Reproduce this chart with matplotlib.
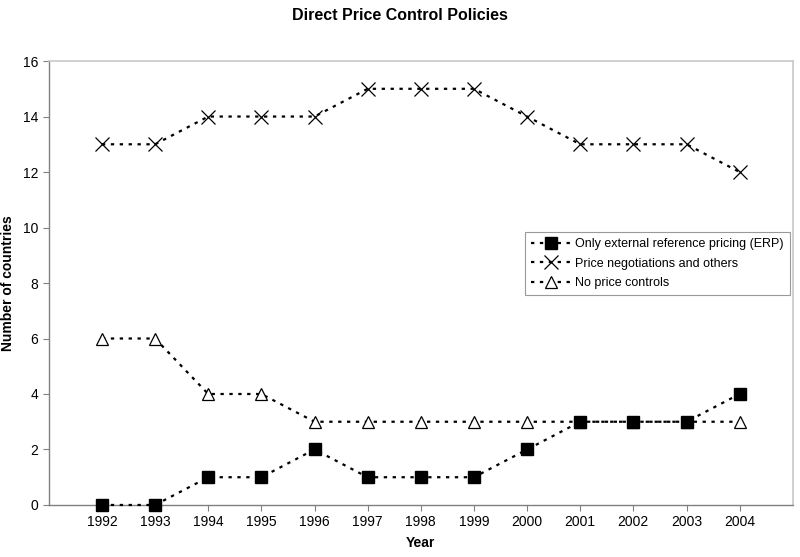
from matplotlib import pyplot as plt

# data...
years = ['1992', '1993', '1994', '1995', '1996', '1997', '1998', '1999', '2000', '2001', '2002', '2003', '2004']
erp_only = [0, 0, 1, 1, 2, 1, 1, 1, 2, 3, 3, 3, 4]
negotiations = [13, 13, 14, 14, 14, 15, 15, 15, 14, 13, 13, 13, 12]
no_controls = [6, 6, 4, 4, 3, 3, 3, 3, 3, 3, 3, 3, 3]

plt.rcParams['font.family'] = ['Liberation Sans', 'DejaVu Sans']

fig = plt.figure(figsize=(8.0, 5.57), dpi=100)
ax = fig.add_axes([0.061, 0.0934, 0.930, 0.797])

xs = list(range(len(years)))
dots = (0, (1.5, 2.5))

ax.plot(xs, erp_only, color='black', linestyle=dots, linewidth=1.6, marker='s', markersize=9,
        markerfacecolor='black', markeredgecolor='black', label='Only external reference pricing (ERP)',
        zorder=4, clip_on=False)
ax.plot(xs, negotiations, color='black', linestyle=dots, linewidth=1.6, marker='x', markersize=10,
        markeredgewidth=0.9, label='Price negotiations and others', zorder=3, clip_on=False)
ax.plot(xs, no_controls, color='black', linestyle=dots, linewidth=1.6, marker='^', markersize=9,
        markerfacecolor='white', markeredgecolor='black', markeredgewidth=0.9, label='No price controls',
        zorder=3, clip_on=False)

ax.set_xlim(-1, len(years))
ax.set_ylim(0, 16)
ax.set_yticks(range(0, 17, 2))
ax.set_xticks(xs)
ax.set_xticklabels(years)
ax.tick_params(axis='both', labelsize=10, length=4, width=0.8, color='#808080', direction='out')

for side in ('left', 'bottom'):
    ax.spines[side].set_color('#808080')
    ax.spines[side].set_linewidth(1.0)
for side in ('top', 'right'):
    ax.spines[side].set_color('#c8c8c8')
    ax.spines[side].set_linewidth(1.2)

ax.set_xlabel('Year', fontsize=10, fontweight='bold', labelpad=5)
ax.set_ylabel('Number of countries', fontsize=10, fontweight='bold', labelpad=6)
ax.yaxis.set_label_coords(-0.046, 0.5)
fig.suptitle('Direct Price Control Policies', fontsize=11.5, fontweight='bold', x=0.5, y=0.985)

leg = ax.legend(loc='upper right', bbox_to_anchor=(0.996, 0.615), fontsize=9, frameon=True, fancybox=False,
                handlelength=3.2, borderpad=0.5, labelspacing=0.6, handletextpad=0.3, borderaxespad=0)
leg.get_frame().set_edgecolor('#808080')
leg.get_frame().set_linewidth(0.8)

fig.savefig('out.png', dpi=100)
